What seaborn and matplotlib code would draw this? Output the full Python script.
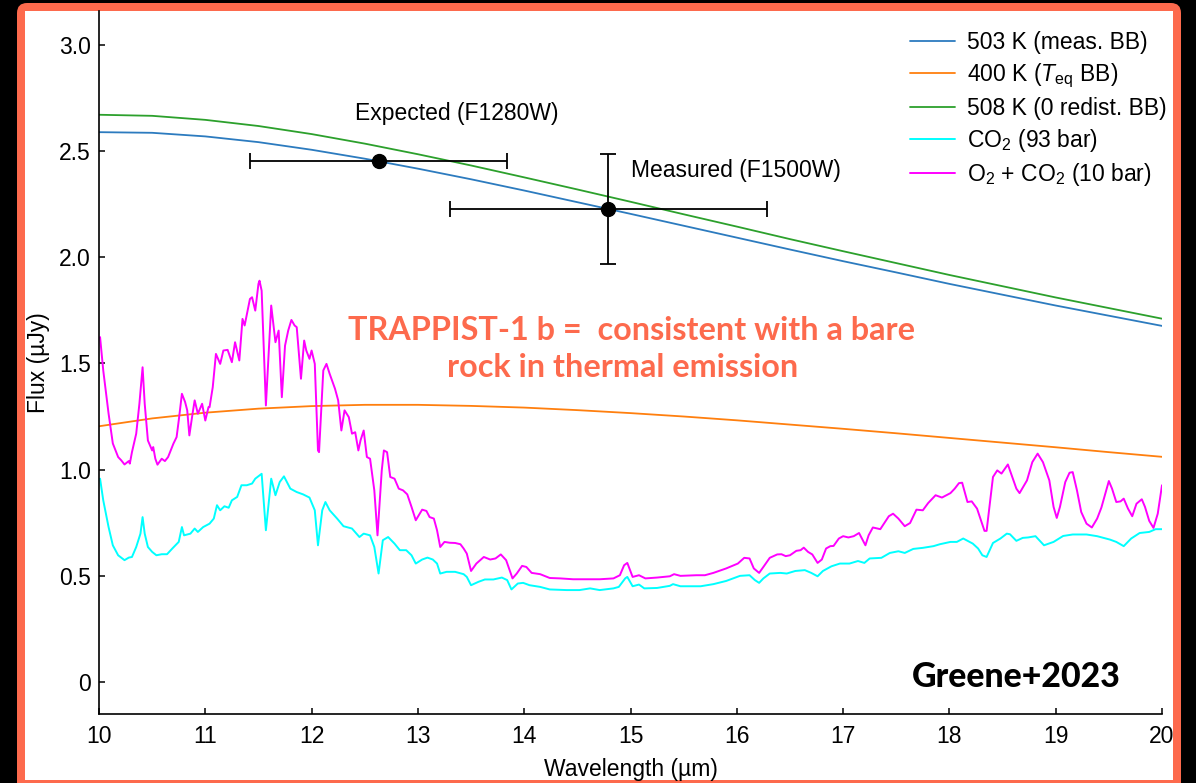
import numpy as np
import pandas as pd
import seaborn as sns
import matplotlib
matplotlib.use("Agg")
import matplotlib.pyplot as plt
from matplotlib.patches import FancyBboxPatch, Rectangle

# ---------------- data ----------------
bb_wl = [10.0, 10.5, 11.0, 11.5, 12.0, 12.5, 13.0, 13.5, 14.0, 14.5, 15.0,
         15.5, 16.0, 16.5, 17.0, 17.5, 18.0, 18.5, 19.0, 19.5, 20.0]
bb_503 = [2.590, 2.587, 2.570, 2.543, 2.507, 2.465, 2.418, 2.368, 2.315, 2.260, 2.205,
          2.149, 2.093, 2.037, 1.982, 1.929, 1.875, 1.824, 1.773, 1.725, 1.677]
bb_400 = [1.204, 1.241, 1.268, 1.287, 1.299, 1.305, 1.305, 1.300, 1.292, 1.280, 1.266,
          1.250, 1.232, 1.212, 1.192, 1.171, 1.149, 1.127, 1.105, 1.082, 1.060]
bb_508 = [2.672, 2.667, 2.648, 2.619, 2.581, 2.536, 2.486, 2.433, 2.377, 2.320, 2.262,
          2.203, 2.145, 2.086, 2.029, 1.973, 1.917, 1.864, 1.811, 1.761, 1.711]

o2co2_wl = [10.01, 10.04, 10.09, 10.13, 10.18, 10.21, 10.24, 10.28, 10.29, 10.31, 10.35, 10.38,
            10.41, 10.43, 10.46, 10.50, 10.51, 10.53, 10.55, 10.59, 10.62, 10.65, 10.70, 10.73,
            10.75, 10.78, 10.81, 10.83, 10.85, 10.88, 10.90, 10.93, 10.97, 11.00, 11.03, 11.04,
            11.07, 11.10, 11.14, 11.17, 11.21, 11.25, 11.28, 11.32, 11.35, 11.37, 11.42, 11.44,
            11.47, 11.50, 11.51, 11.53, 11.57, 11.62, 11.66, 11.69, 11.72, 11.75, 11.78, 11.81,
            11.84, 11.86, 11.90, 11.93, 11.95, 11.98, 12.00, 12.03, 12.06, 12.07, 12.11, 12.14,
            12.17, 12.22, 12.25, 12.28, 12.31, 12.35, 12.38, 12.41, 12.44, 12.46, 12.49, 12.52,
            12.55, 12.59, 12.62, 12.66, 12.68, 12.71, 12.74, 12.78, 12.82, 12.86, 12.90, 12.94,
            12.98, 13.04, 13.08, 13.11, 13.15, 13.18, 13.21, 13.25, 13.30, 13.35, 13.40, 13.43,
            13.46, 13.50, 13.55, 13.62, 13.68, 13.73, 13.78, 13.83, 13.89, 13.93, 13.98, 14.02,
            14.07, 14.15, 14.24, 14.34, 14.46, 14.59, 14.71, 14.84, 14.90, 14.94, 14.97, 15.02,
            15.08, 15.14, 15.25, 15.37, 15.41, 15.47, 15.62, 15.70, 15.78, 15.90, 16.01, 16.07,
            16.12, 16.16, 16.21, 16.25, 16.31, 16.38, 16.42, 16.46, 16.50, 16.56, 16.60, 16.63,
            16.67, 16.71, 16.76, 16.80, 16.84, 16.88, 16.91, 16.96, 17.00, 17.05, 17.10, 17.15,
            17.21, 17.24, 17.28, 17.35, 17.43, 17.47, 17.52, 17.58, 17.63, 17.69, 17.75, 17.80,
            17.87, 17.93, 18.01, 18.05, 18.09, 18.12, 18.17, 18.21, 18.26, 18.33, 18.35, 18.41,
            18.45, 18.49, 18.55, 18.58, 18.63, 18.66, 18.73, 18.78, 18.83, 18.88, 18.94, 18.98,
            19.01, 19.04, 19.09, 19.13, 19.16, 19.20, 19.24, 19.29, 19.34, 19.39, 19.43, 19.50,
            19.53, 19.57, 19.61, 19.64, 19.68, 19.72, 19.76, 19.81, 19.84, 19.88, 19.92, 19.96,
            20.00]
o2co2_flux = [1.624, 1.467, 1.264, 1.123, 1.059, 1.043, 1.024, 1.040, 1.028, 1.082, 1.169, 1.310,
              1.482, 1.310, 1.137, 1.090, 1.106, 1.051, 1.023, 1.051, 1.040, 1.059, 1.122, 1.153,
              1.231, 1.357, 1.318, 1.279, 1.161, 1.263, 1.326, 1.263, 1.310, 1.231, 1.294, 1.294,
              1.388, 1.545, 1.498, 1.561, 1.564, 1.506, 1.600, 1.514, 1.710, 1.679, 1.804, 1.812,
              1.749, 1.875, 1.890, 1.843, 1.302, 1.773, 1.600, 1.655, 1.341, 1.584, 1.655, 1.705,
              1.679, 1.671, 1.428, 1.608, 1.561, 1.522, 1.561, 1.498, 1.090, 1.082, 1.467, 1.498,
              1.451, 1.381, 1.326, 1.184, 1.279, 1.247, 1.169, 1.176, 1.090, 1.137, 1.184, 1.059,
              1.051, 0.902, 0.690, 0.996, 1.090, 1.082, 0.965, 0.957, 0.910, 0.902, 0.883, 0.824,
              0.761, 0.811, 0.805, 0.776, 0.769, 0.714, 0.635, 0.659, 0.655, 0.654, 0.648, 0.628,
              0.604, 0.522, 0.557, 0.588, 0.576, 0.581, 0.600, 0.573, 0.487, 0.510, 0.546, 0.541,
              0.513, 0.507, 0.489, 0.487, 0.483, 0.483, 0.483, 0.487, 0.502, 0.549, 0.560, 0.494,
              0.502, 0.487, 0.491, 0.497, 0.507, 0.499, 0.502, 0.502, 0.513, 0.534, 0.557, 0.584,
              0.581, 0.534, 0.513, 0.541, 0.584, 0.600, 0.601, 0.592, 0.596, 0.617, 0.620, 0.632,
              0.612, 0.600, 0.560, 0.576, 0.628, 0.639, 0.640, 0.675, 0.686, 0.680, 0.686, 0.701,
              0.643, 0.690, 0.727, 0.719, 0.780, 0.792, 0.769, 0.733, 0.748, 0.811, 0.808, 0.842,
              0.879, 0.868, 0.889, 0.910, 0.936, 0.938, 0.847, 0.850, 0.816, 0.711, 0.711, 0.965,
              0.996, 0.981, 1.024, 0.981, 0.910, 0.889, 0.949, 1.035, 1.075, 1.035, 0.949, 0.824,
              0.772, 0.824, 0.941, 0.985, 0.988, 0.902, 0.800, 0.745, 0.727, 0.769, 0.821, 0.946,
              0.910, 0.847, 0.850, 0.863, 0.816, 0.780, 0.839, 0.860, 0.824, 0.758, 0.725, 0.792,
              0.926]

co2_wl = [10.01, 10.04, 10.09, 10.13, 10.18, 10.24, 10.28, 10.31, 10.35, 10.39, 10.41, 10.43,
          10.46, 10.50, 10.54, 10.59, 10.64, 10.69, 10.75, 10.78, 10.80, 10.86, 10.90, 10.93,
          10.98, 11.04, 11.08, 11.11, 11.14, 11.18, 11.22, 11.25, 11.30, 11.34, 11.39, 11.44,
          11.47, 11.53, 11.57, 11.62, 11.66, 11.70, 11.74, 11.80, 11.86, 11.92, 11.98, 12.03,
          12.06, 12.10, 12.13, 12.17, 12.24, 12.30, 12.38, 12.45, 12.49, 12.55, 12.59, 12.63,
          12.67, 12.72, 12.78, 12.83, 12.89, 12.94, 12.98, 13.04, 13.09, 13.14, 13.18, 13.21,
          13.27, 13.35, 13.43, 13.46, 13.50, 13.57, 13.63, 13.71, 13.79, 13.84, 13.88, 13.94,
          13.99, 14.05, 14.15, 14.24, 14.40, 14.52, 14.62, 14.71, 14.84, 14.89, 14.95, 14.97,
          15.02, 15.08, 15.13, 15.25, 15.37, 15.40, 15.47, 15.66, 15.78, 15.90, 16.03, 16.12,
          16.17, 16.21, 16.25, 16.31, 16.41, 16.47, 16.55, 16.64, 16.70, 16.76, 16.81, 16.89,
          16.97, 17.06, 17.14, 17.20, 17.25, 17.36, 17.44, 17.52, 17.58, 17.66, 17.75, 17.85,
          17.91, 18.01, 18.07, 18.13, 18.22, 18.27, 18.31, 18.35, 18.41, 18.48, 18.54, 18.57,
          18.63, 18.69, 18.74, 18.81, 18.89, 18.98, 19.07, 19.16, 19.29, 19.39, 19.51, 19.57,
          19.64, 19.71, 19.79, 19.88, 19.94, 20.00]
co2_flux = [0.957, 0.855, 0.729, 0.643, 0.596, 0.573, 0.585, 0.588, 0.635, 0.698, 0.776, 0.698,
            0.635, 0.612, 0.596, 0.601, 0.601, 0.628, 0.659, 0.729, 0.690, 0.698, 0.722, 0.706,
            0.729, 0.745, 0.769, 0.832, 0.808, 0.827, 0.820, 0.855, 0.871, 0.926, 0.926, 0.934,
            0.957, 0.980, 0.714, 0.957, 0.879, 0.941, 0.968, 0.910, 0.894, 0.883, 0.868, 0.808,
            0.643, 0.808, 0.847, 0.808, 0.769, 0.733, 0.722, 0.682, 0.698, 0.690, 0.635, 0.510,
            0.667, 0.682, 0.651, 0.620, 0.620, 0.596, 0.557, 0.576, 0.585, 0.576, 0.557, 0.510,
            0.518, 0.518, 0.507, 0.494, 0.455, 0.471, 0.482, 0.482, 0.491, 0.479, 0.435, 0.463,
            0.466, 0.455, 0.447, 0.435, 0.432, 0.432, 0.440, 0.432, 0.440, 0.447, 0.487, 0.494,
            0.450, 0.458, 0.440, 0.442, 0.452, 0.460, 0.450, 0.450, 0.460, 0.475, 0.499, 0.502,
            0.479, 0.466, 0.487, 0.510, 0.513, 0.510, 0.522, 0.526, 0.513, 0.497, 0.522, 0.544,
            0.557, 0.557, 0.569, 0.560, 0.581, 0.584, 0.607, 0.615, 0.607, 0.626, 0.631, 0.639,
            0.648, 0.659, 0.659, 0.675, 0.651, 0.628, 0.596, 0.588, 0.654, 0.675, 0.698, 0.695,
            0.664, 0.678, 0.680, 0.686, 0.643, 0.659, 0.687, 0.694, 0.694, 0.686, 0.670, 0.659,
            0.639, 0.675, 0.701, 0.706, 0.719, 0.719]

obs_wl = [12.63, 14.79]
obs_flux = [2.455, 2.229]
obs_wl_err = [1.21, 1.49]
obs_flux_err = [0.0, 0.26]

series_labels = ["503 K (meas. BB)", "400 K ($T_\\mathrm{eq}$ BB)", "508 K (0 redist. BB)",
                 "CO$_2$ (93 bar)", "O$_2$ + CO$_2$ (10 bar)"]
series_colors = ["#2c7bbf", "#ff7f0e", "#2ca02c", "#00ffff", "#ff00ff"]

y_ticks = [0, 0.5, 1.0, 1.5, 2.0, 2.5, 3.0]
y_ticklabels = ["0", "0.5", "1.0", "1.5", "2.0", "2.5", "3.0"]
x_ticks = [10, 11, 12, 13, 14, 15, 16, 17, 18, 19, 20]

# ---------------- style ----------------
sns.set_theme(style="white")
plt.rcParams["font.family"] = ["Liberation Sans", "DejaVu Sans"]
plt.rcParams["mathtext.fontset"] = "custom"
plt.rcParams["mathtext.rm"] = "Liberation Sans"
plt.rcParams["mathtext.it"] = "Liberation Sans:italic"
plt.rcParams["mathtext.bf"] = "Liberation Sans:bold"

W, H = 1196, 783
fig = plt.figure(figsize=(W / 100, H / 100), dpi=100)
fig.patch.set_facecolor("black")

coral = "#fd6a4d"
frame = FancyBboxPatch((0.17, -0.3), 11.64, 8.10, boxstyle="round,pad=0,rounding_size=0.1",
                       transform=fig.dpi_scale_trans, facecolor=coral, edgecolor="none", zorder=-3)
fig.patches.append(frame)
inner = Rectangle((0.25, 0.03), 11.48, 7.69, transform=fig.dpi_scale_trans,
                  facecolor="white", edgecolor="none", zorder=-2)
fig.patches.append(inner)

ax = fig.add_axes([99 / W, (H - 714) / H, (1162 - 99) / W, (714 - 11) / H])
ax.set_facecolor("none")
ax.set_zorder(1)

bb_df = pd.DataFrame({"wl": bb_wl, "b503": bb_503, "b400": bb_400, "b508": bb_508})
co2_df = pd.DataFrame({"wl": co2_wl, "flux": co2_flux})
o2_df = pd.DataFrame({"wl": o2co2_wl, "flux": o2co2_flux})

lw = 1.3
sns.lineplot(data=bb_df, x="wl", y="b503", ax=ax, color=series_colors[0], lw=lw,
             label=series_labels[0], estimator=None)
sns.lineplot(data=bb_df, x="wl", y="b400", ax=ax, color=series_colors[1], lw=lw,
             label=series_labels[1], estimator=None)
sns.lineplot(data=bb_df, x="wl", y="b508", ax=ax, color=series_colors[2], lw=lw,
             label=series_labels[2], estimator=None)
sns.lineplot(data=co2_df, x="wl", y="flux", ax=ax, color=series_colors[3], lw=1.4,
             label=series_labels[3], estimator=None)
sns.lineplot(data=o2_df, x="wl", y="flux", ax=ax, color=series_colors[4], lw=1.4,
             label=series_labels[4], estimator=None)

ax.errorbar(obs_wl, obs_flux, xerr=obs_wl_err, yerr=obs_flux_err, fmt="o", color="black",
            ms=10, elinewidth=1.3, capsize=6, capthick=1.3, zorder=5)

fs = 16.5
ax.set_xlim(10, 20)
ax.set_ylim(-0.152, 3.161)
ax.set_xticks(x_ticks)
ax.set_xticklabels([str(t) for t in x_ticks])
ax.set_yticks(y_ticks)
ax.set_yticklabels(y_ticklabels)
ax.tick_params(axis="both", direction="in", length=4, width=1.1, labelsize=fs,
               colors="black", pad=6, left=True, bottom=True)
ax.tick_params(axis="x", pad=8)
for side in ["top", "right"]:
    ax.spines[side].set_visible(False)
for side in ["left", "bottom"]:
    ax.spines[side].set_color("black")
    ax.spines[side].set_linewidth(1.2)
ax.set_xlabel("Wavelength (µm)", fontsize=fs, color="black", labelpad=7)
ax.set_ylabel("Flux (µJy)", fontsize=fs, color="black", labelpad=6)

ax.text(13.37, 2.676, "Expected (F1280W)", fontsize=fs, ha="center", va="center", color="black")
ax.text(15.0, 2.41, "Measured (F1500W)", fontsize=fs, ha="left", va="center", color="black")

ax.text(15.005, 1.655, "TRAPPIST-1 b =  consistent with a bare",
        fontsize=23.3, fontweight="bold", family=["Lato", "DejaVu Sans"], color=coral,
        ha="center", va="center")
ax.text(14.93, 1.481, "rock in thermal emission",
        fontsize=23.3, fontweight="bold", family=["Lato", "DejaVu Sans"], color=coral,
        ha="center", va="center")
ax.text(18.63, 0.022, "Greene+2023", fontsize=24.4, fontweight="black",
        family=["Lato", "DejaVu Sans"], color="black", ha="center", va="center")

leg = ax.legend(loc="upper left", bbox_to_anchor=(910 / W, (H - 31) / H),
                bbox_transform=fig.transFigure, frameon=False, fontsize=fs,
                handlelength=1.96, handletextpad=0.52, labelspacing=0.31,
                borderpad=0, borderaxespad=0)
for t in leg.get_texts():
    t.set_color("black")

fig.savefig("out.png", dpi=100, facecolor=fig.get_facecolor())
